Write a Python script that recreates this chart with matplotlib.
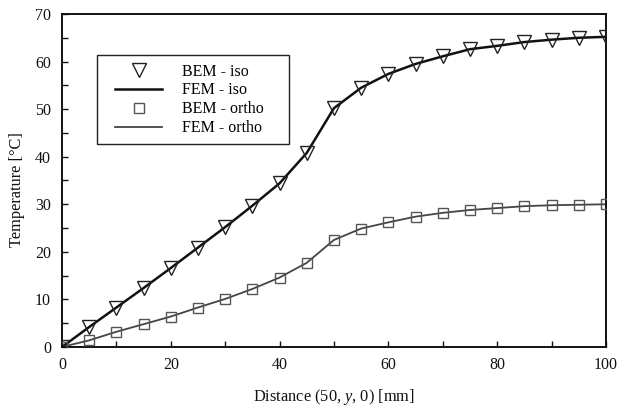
import matplotlib
matplotlib.use("Agg")
import matplotlib.pyplot as plt
from matplotlib.ticker import MultipleLocator
from matplotlib.patches import Rectangle

plt.rcParams['font.family'] = ['Liberation Serif', 'DejaVu Serif']
plt.rcParams['mathtext.fontset'] = 'custom'
plt.rcParams['mathtext.it'] = 'Liberation Serif:italic'
plt.rcParams['mathtext.rm'] = 'Liberation Serif'

distance = [0, 5, 10, 15, 20, 25, 30, 35, 40, 45, 50, 55, 60, 65, 70, 75, 80, 85, 90, 95, 100]
bem_iso = [0, 4.2, 8.3, 12.4, 16.6, 20.9, 25.2, 29.7, 34.4, 40.8, 50.2, 54.5, 57.4, 59.5, 61.1, 62.6, 63.3, 64.1, 64.6, 65.0, 65.2]
fem_iso = [0, 4.2, 8.3, 12.4, 16.6, 20.9, 25.2, 29.7, 34.4, 40.8, 50.2, 54.5, 57.4, 59.5, 61.1, 62.6, 63.3, 64.1, 64.6, 65.0, 65.2]
bem_ortho = [0, 1.4, 3.2, 4.8, 6.4, 8.3, 10.1, 12.2, 14.6, 17.7, 22.5, 24.9, 26.2, 27.4, 28.2, 28.8, 29.2, 29.6, 29.8, 29.9, 30.0]
fem_ortho = [0, 1.4, 3.2, 4.8, 6.4, 8.3, 10.1, 12.2, 14.6, 17.7, 22.5, 24.9, 26.2, 27.4, 28.2, 28.8, 29.2, 29.6, 29.8, 29.9, 30.0]

fig = plt.figure(figsize=(6.17, 4.09), dpi=100)
ax = fig.add_axes([0.1005, 0.1516, 0.8815, 0.8142])

ax.plot(distance, bem_iso, linestyle='none', marker='v', markersize=9.5,
        markerfacecolor='none', markeredgecolor='#222222', markeredgewidth=1.0,
        label='BEM - iso', zorder=3)
ax.plot(distance, fem_iso, color='#111111', linewidth=1.8, label='FEM - iso', zorder=2)
ax.plot(distance, bem_ortho, linestyle='none', marker='s', markersize=7.8,
        markerfacecolor='none', markeredgecolor='#555555', markeredgewidth=1.0,
        label='BEM - ortho', zorder=3)
ax.plot(distance, fem_ortho, color='#444444', linewidth=1.3, label='FEM - ortho', zorder=2)

ax.set_xlim(0, 100)
ax.set_ylim(0, 70)
ax.xaxis.set_major_locator(MultipleLocator(20))
ax.xaxis.set_minor_locator(MultipleLocator(10))
ax.yaxis.set_major_locator(MultipleLocator(10))
ax.yaxis.set_minor_locator(MultipleLocator(5))
ax.tick_params(which='both', direction='in', top=False, right=False,
               length=4, width=1.0, labelsize=11.5, colors='#111111')
ax.tick_params(axis='y', which='both', pad=8)
ax.tick_params(axis='x', which='both', pad=7)
for s in ax.spines.values():
    s.set_linewidth(1.4)
    s.set_color('#111111')

ax.set_xlabel(r'Distance (50, $y$, 0) [mm]', fontsize=11.8, labelpad=10, color='#111111')
ax.set_ylabel('Temperature [°C]', fontsize=11.8, color='#111111')
ax.yaxis.set_label_coords(-0.068, 0.473)

# legend frame
ax.add_patch(Rectangle((0.0643, 0.610), 0.353, 0.267, transform=ax.transAxes,
                       facecolor='white', edgecolor='#222222', linewidth=1.0, zorder=4))
leg = ax.legend(loc='upper left', bbox_to_anchor=(0.0974, 0.851), fontsize=11.5,
                frameon=False, handlelength=2.95, handletextpad=1.25, borderpad=0,
                labelspacing=0.18, borderaxespad=0)
leg.set_zorder(5)

fig.savefig('out.png', dpi=100)
